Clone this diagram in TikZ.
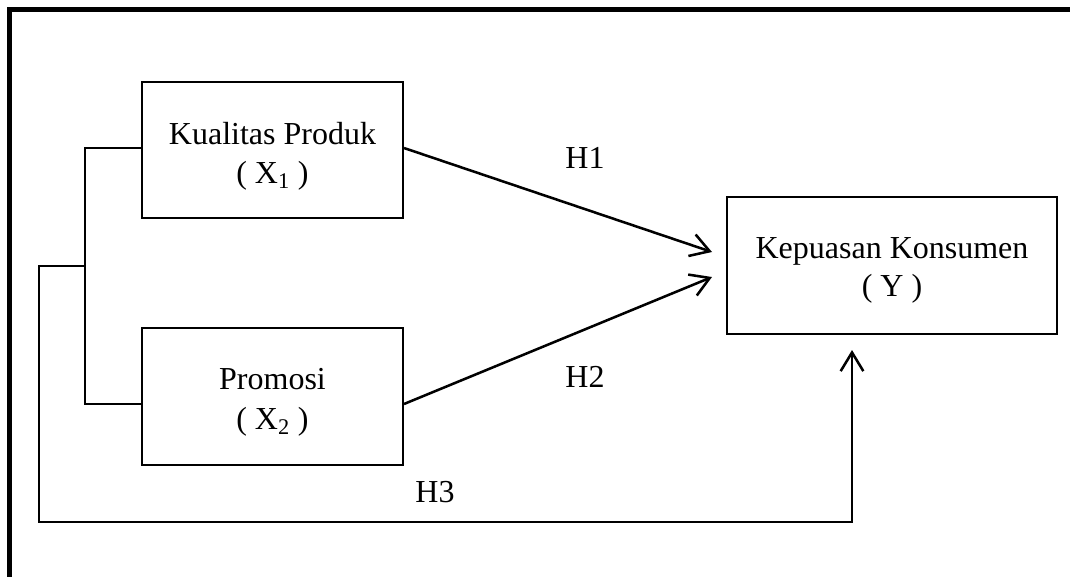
\documentclass[tikz,border=0pt]{standalone}
\usepackage{fontspec}
\setmainfont{Liberation Serif}
\usetikzlibrary{arrows.meta,calc}
\newcommand{\boxtext}[3]{\raisebox{#1}[0pt][0pt]{\parbox[t]{#2}{\centering #3}}}
\begin{document}
\begin{tikzpicture}[x=0.75pt,y=-0.75pt,
  box/.style={draw,line width=1.5pt,inner sep=0pt,align=center,font=\fontsize{24}{29.5}\selectfont},
  lbl/.style={font=\fontsize{24}{28}\selectfont,inner sep=0pt},
  conn/.style={line width=1.6pt},
  arr/.style={line width=1.9pt,-{Straight Barb[length=14pt,width=17pt,line width=1.9pt]}}]
\useasboundingbox (0,0) rectangle (1070,576);
\draw[line width=3.75pt] (9.5,600) -- (9.5,9) -- (1100,9);
\node[box,minimum width=195.75pt,minimum height=102pt] (b1) at (272.5,150) {\boxtext{4.5pt}{195pt}{Kualitas Produk\\( X\textsubscript{1} )}};
\node[box,minimum width=195.75pt,minimum height=102.75pt] (b2) at (272.5,396.5) {\boxtext{5pt}{195pt}{Promosi\\( X\textsubscript{2} )}};
\node[box,minimum width=247.5pt,minimum height=102.75pt,font=\fontsize{24}{29}\selectfont] (by) at (892,265.5) {\boxtext{5.5pt}{245pt}{Kepuasan Konsumen\\( Y )}};
\coordinate (h1e) at (712,252);
\coordinate (h2e) at (712,277);
\coordinate (h3e) at (852,350);
\coordinate (bt) at (85,148);
\coordinate (bb) at (85,404);
\coordinate (bm) at (85,266);
\coordinate (lc) at (39,266);
\coordinate (ld) at (39,522);
\draw[arr] ($(b1.east)+(0,-2)$) -- (h1e);
\draw[arr] ($(b2.east)+(0,7.5)$) -- (h2e);
\draw[conn] (b1.west |- bt) -- (bt) -- (bb) -- (b2.west |- bb);
\draw[arr] (bm) -- (lc) -- (ld) -- (ld -| h3e) -- (h3e);
\node[lbl] (lh1) at (585,158) {H1};
\node[lbl] (lh2) at (585,377) {H2};
\node[lbl] (lh3) at (435,492) {H3};
\end{tikzpicture}
\end{document}
